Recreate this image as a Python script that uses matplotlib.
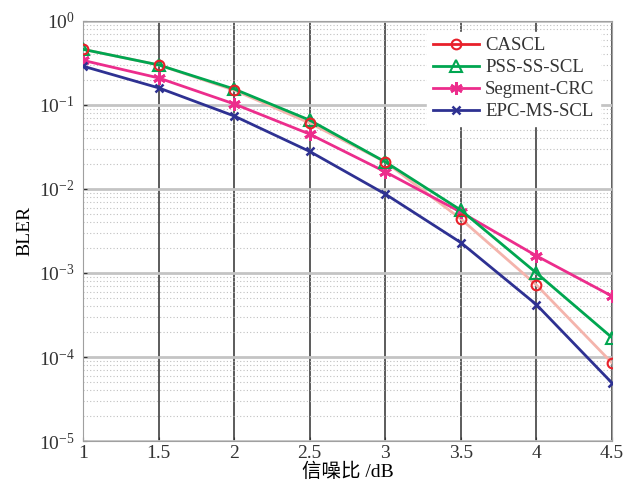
import numpy as np
import matplotlib.pyplot as plt
from matplotlib.lines import Line2D
from matplotlib.ticker import LogLocator, NullFormatter

plt.rcParams['font.family'] = ['Liberation Serif', 'Noto Sans CJK SC']
plt.rcParams['mathtext.fontset'] = 'stix'
plt.rcParams['text.color'] = '#333333'
plt.rcParams['xtick.color'] = '#333333'
plt.rcParams['ytick.color'] = '#333333'

snr = [1, 1.5, 2, 2.5, 3, 3.5, 4, 4.5]
cascl = [0.46, 0.30, 0.15, 0.061, 0.021, 0.0044, 7.2e-4, 8.5e-5]
pss_ss_scl = [0.46, 0.30, 0.155, 0.066, 0.021, 0.0056, 1.0e-3, 1.7e-4]
segment_crc = [0.34, 0.21, 0.103, 0.045, 0.016, 0.0053, 1.6e-3, 5.3e-4]
epc_ms_scl = [0.29, 0.16, 0.074, 0.028, 0.0087, 0.0023, 4.2e-4, 4.9e-5]

C_RED = '#e8202a'
C_GREEN = '#00a650'
C_PINK = '#ec2d8c'
C_BLUE = '#2e3192'
ASTER = (6, 2, 0)  # asterisk like matlab '*'

fig = plt.figure(figsize=(6.32, 4.88), dpi=100)
ax = fig.add_axes([0.1313, 0.0963, 0.8371, 0.8607])

# CASCL line shows faint in the reference
ax.plot(snr, cascl, color='#f4b4ac', lw=2, zorder=2)
ax.plot(snr, cascl, ls='none', marker='o', ms=7, mfc='none', mec=C_RED, mew=1.5, zorder=5)
ax.plot(snr, pss_ss_scl, color=C_GREEN, lw=2, marker='^', ms=8, mfc='none', mew=1.5, zorder=4)
ax.plot(snr, segment_crc, color=C_PINK, lw=2, marker=ASTER, ms=9, mew=2, zorder=3)
ax.plot(snr, epc_ms_scl, color=C_BLUE, lw=2, marker='x', ms=6, mew=1.8, zorder=3)

ax.set_yscale('log')
ax.set_xlim(1, 4.5)
ax.set_ylim(1e-5, 1)
ax.set_xticks(snr)
ax.set_xticklabels(['1', '1.5', '2', '2.5', '3', '3.5', '4', '4.5'])
ax.yaxis.set_major_locator(LogLocator(base=10, numticks=10))
ax.yaxis.set_minor_locator(LogLocator(base=10, subs=np.arange(2, 10), numticks=10))
ax.yaxis.set_minor_formatter(NullFormatter())

ax.grid(True, axis='x', which='major', color='#404040', lw=1.2)
ax.grid(True, axis='y', which='major', color='#c4c4c4', lw=2)
ax.grid(True, axis='y', which='minor', color='#c0c0c0', lw=0.8, ls=(0, (1, 2)))
ax.tick_params(which='both', direction='in', labelsize=14, length=3)
ax.tick_params(axis='x', pad=3)
ax.tick_params(axis='y', pad=6)
ax.tick_params(which='minor', length=0)
for s in ax.spines.values():
    s.set_color('#a0a0a0')

ax.set_xlabel('信噪比 /dB', fontsize=14, labelpad=0)
ax.set_ylabel('BLER', fontsize=14, labelpad=4)

handles = [
    Line2D([], [], color=C_RED, lw=2, marker='o', ms=7, mfc='none', mew=1.5),
    Line2D([], [], color=C_GREEN, lw=2, marker='^', ms=8, mfc='none', mew=1.5),
    Line2D([], [], color=C_PINK, lw=2, marker=ASTER, ms=9, mew=2),
    Line2D([], [], color=C_BLUE, lw=2, marker='x', ms=6, mew=1.8),
]
ax.legend(handles, ['CASCL', 'PSS-SS-SCL', 'Segment-CRC', 'EPC-MS-SCL'],
          loc='upper right', bbox_to_anchor=(0.995, 0.997), fontsize=13.5,
          fancybox=False, framealpha=1, edgecolor='white',
          handlelength=2.5, handletextpad=0.3, labelspacing=0.26, borderpad=0.3)

fig.savefig('out.png', dpi=100)
